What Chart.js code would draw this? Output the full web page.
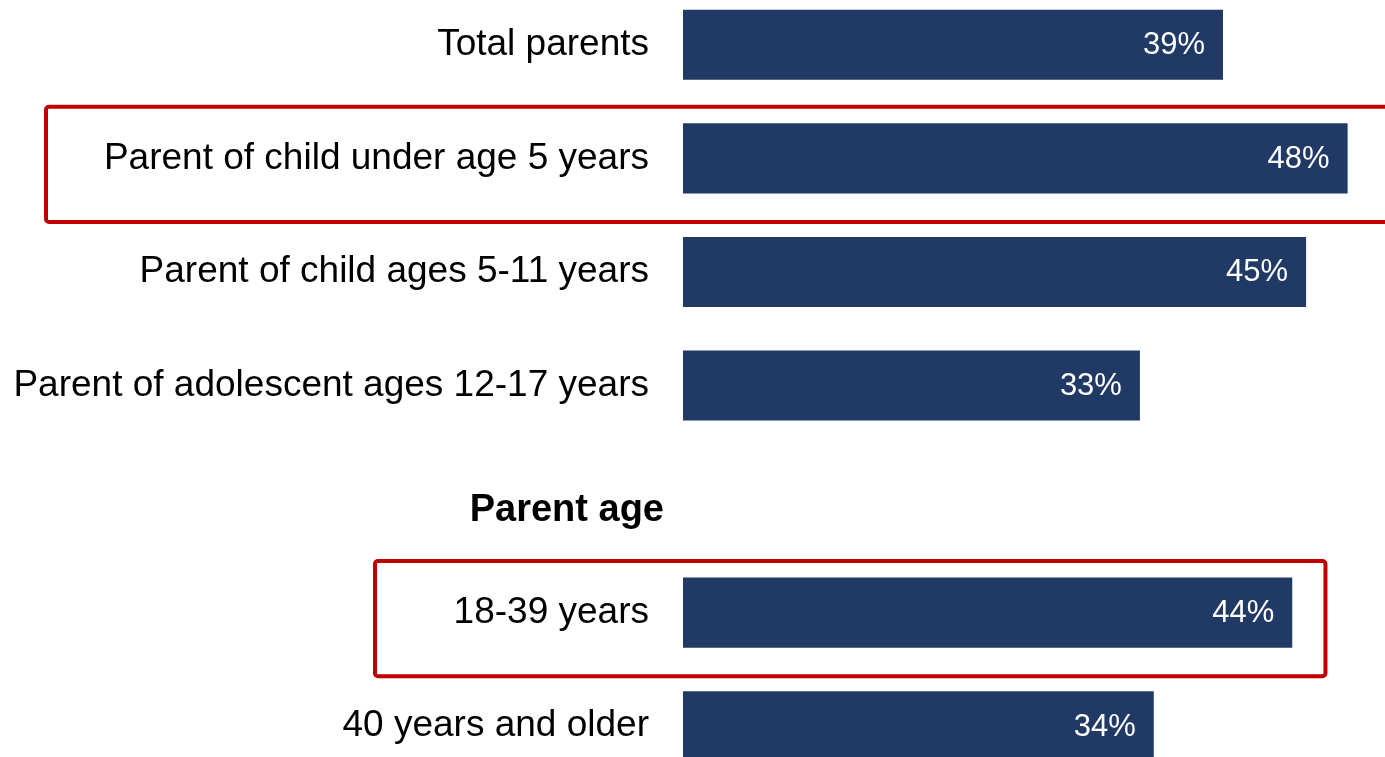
<!DOCTYPE html>
<html>
<head>
<meta charset="utf-8">
<script src="https://cdn.jsdelivr.net/npm/chart.js@4/dist/chart.umd.min.js"></script>
<style>
  html, body { margin: 0; padding: 0; background: #ffffff; overflow: hidden; }
  body { width: 1385px; height: 757px; position: relative; }
  #wrap { position: absolute; left: 0; top: -12px; width: 1385px; height: 795px; }
</style>
</head>
<body>
<div id="wrap"><canvas id="chart"></canvas></div>
<script>
// Share of parents per group (percent)
const categories = [
  'Total parents',
  'Parent of child under age 5 years',
  'Parent of child ages 5-11 years',
  'Parent of adolescent ages 12-17 years',
  '',
  '18-39 years',
  '40 years and older'
];
const values = [39, 48, 45, 33, null, 44, 34];

// Section heading drawn in the empty row
const sectionHeadings = [{ index: 4, text: 'Parent age' }];

// Rows outlined in red
const highlightRows = [1, 5];

const FONT = "'Liberation Sans', Arial, sans-serif";
const NAVY = '#213965';
const RED = '#c00000';

const overlayPlugin = {
  id: 'overlay',
  afterDatasetsDraw(chart) {
    const ctx = chart.ctx;
    const y = chart.scales.y;
    const x = chart.scales.x;
    const meta = chart.getDatasetMeta(0);
    const slot = y.getPixelForValue(1) - y.getPixelForValue(0);

    // value labels inside the bar ends
    ctx.save();
    ctx.fillStyle = '#ffffff';
    ctx.font = '31px ' + FONT;
    ctx.textAlign = 'right';
    ctx.textBaseline = 'middle';
    meta.data.forEach((bar, i) => {
      const v = values[i];
      if (v === null || v === undefined) return;
      ctx.fillText(v + '%', bar.x - 18, bar.y + 1);
    });
    ctx.restore();

    // section headings
    ctx.save();
    ctx.fillStyle = '#000000';
    ctx.font = 'bold 38px ' + FONT;
    ctx.textAlign = 'right';
    ctx.textBaseline = 'alphabetic';
    sectionHeadings.forEach(h => {
      const cy = y.getPixelForValue(h.index);
      ctx.fillText(h.text, chart.chartArea.left - 19, cy + 22);
    });
    ctx.restore();

    // red outlines around highlighted rows
    ctx.save();
    ctx.strokeStyle = RED;
    ctx.lineWidth = 4;
    ctx.lineJoin = 'round';
    const boxes = [
      { row: highlightRows[0], left: 46, right: chart.width + 10 },
      { row: highlightRows[1], left: 375, right: x.getPixelForValue(46.4) }
    ];
    boxes.forEach(b => {
      const cy = y.getPixelForValue(b.row);
      const top = cy - slot * 0.455;
      const bottom = cy + slot * 0.56;
      ctx.beginPath();
      if (ctx.roundRect) {
        ctx.roundRect(b.left, top, b.right - b.left, bottom - top, 3);
      } else {
        ctx.rect(b.left, top, b.right - b.left, bottom - top);
      }
      ctx.stroke();
    });
    ctx.restore();
  }
};

new Chart(document.getElementById('chart'), {
  type: 'bar',
  data: {
    labels: categories,
    datasets: [{
      data: values,
      backgroundColor: NAVY,
      borderWidth: 0,
      categoryPercentage: 1,
      barPercentage: 0.617
    }]
  },
  options: {
    indexAxis: 'y',
    responsive: true,
    maintainAspectRatio: false,
    animation: false,
    layout: { padding: 0 },
    plugins: {
      legend: { display: false },
      tooltip: { enabled: false },
      title: { display: false }
    },
    scales: {
      x: {
        display: false,
        min: 0,
        max: 50.7
      },
      y: {
        position: 'left',
        grid: { display: false, drawTicks: false },
        border: { display: false },
        ticks: {
          color: '#000000',
          padding: 34,
          font: { family: FONT, size: 37 },
          autoSkip: false
        },
        afterFit(scale) {
          scale.width = 683;
          scale.paddingTop = 0;
          scale.paddingBottom = 0;
        }
      }
    }
  },
  plugins: [overlayPlugin]
});
</script>
</body>
</html>
